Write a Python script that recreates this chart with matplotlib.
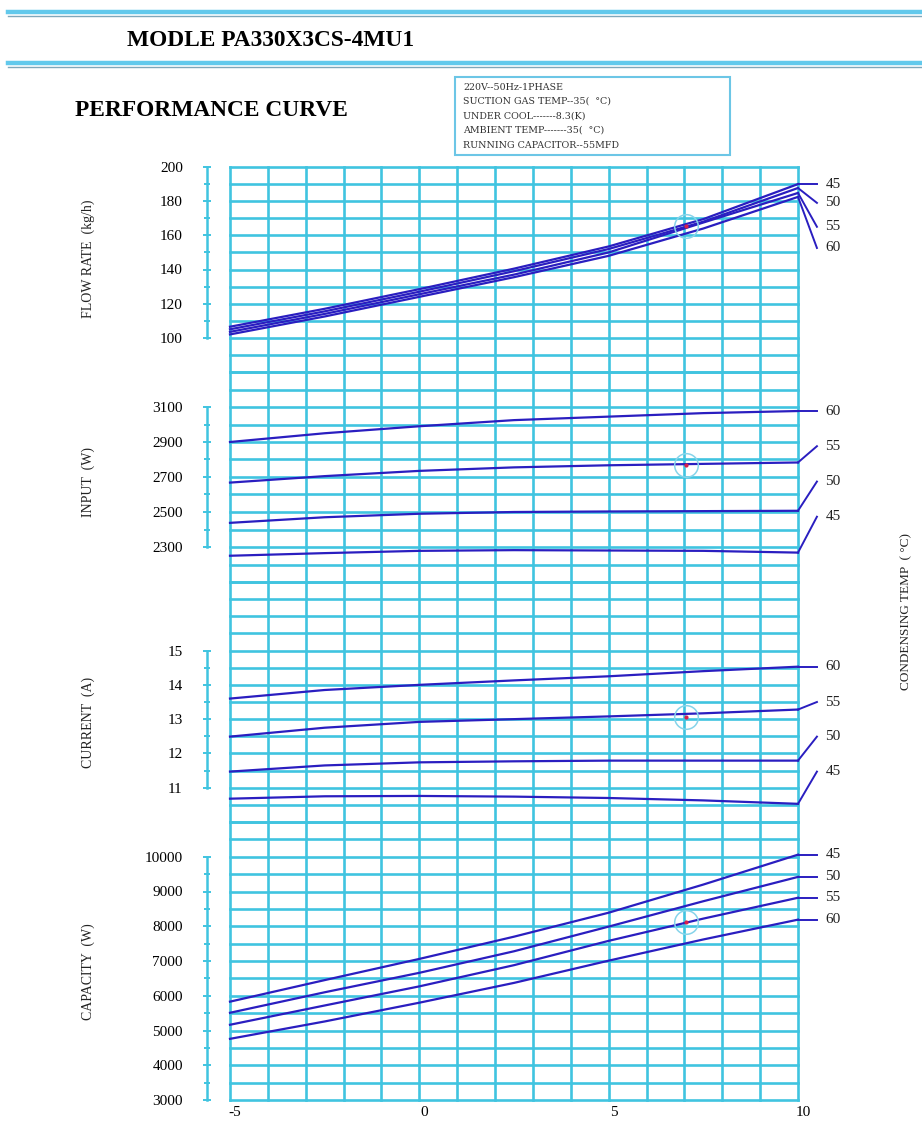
import numpy as np
import matplotlib.pyplot as plt
import matplotlib.transforms as mtransforms
from matplotlib.lines import Line2D
from matplotlib.patches import Rectangle

plt.rcParams['font.family'] = ['Liberation Serif', 'DejaVu Serif']
plt.rcParams['axes.unicode_minus'] = False

W, H = 922, 1122

# evaporating temp (x axis)
evap = [-5, -2.5, 0, 2.5, 5, 7.5, 10]
cond_temps = ['45', '50', '55', '60']

# flow rate (kg/h) for condensing temp 45, 50, 55, 60
flow_45 = [106.5, 117, 128.5, 140.5, 153.5, 169.5, 190]
flow_50 = [105, 115.5, 127, 139, 152, 168, 187.7]
flow_55 = [103.5, 114, 125.5, 137, 150, 167.5, 184.8]
flow_60 = [102, 112.5, 124, 135.5, 148, 164, 182.5]

# input (W)
input_45 = [2250, 2265, 2278, 2282, 2280, 2278, 2268]
input_50 = [2438, 2470, 2490, 2500, 2503, 2505, 2507]
input_55 = [2668, 2705, 2735, 2755, 2767, 2775, 2783]
input_60 = [2900, 2950, 2990, 3025, 3045, 3065, 3077]

# current (A)
current_45 = [10.68, 10.75, 10.76, 10.74, 10.70, 10.63, 10.53]
current_50 = [11.47, 11.65, 11.74, 11.77, 11.79, 11.79, 11.79]
current_55 = [12.49, 12.75, 12.92, 13.00, 13.08, 13.17, 13.28]
current_60 = [13.60, 13.85, 14.00, 14.13, 14.25, 14.40, 14.53]

# capacity (W)
cap_45 = [5830, 6450, 7060, 7700, 8390, 9200, 10060]
cap_50 = [5510, 6100, 6660, 7280, 7990, 8720, 9420]
cap_55 = [5165, 5720, 6270, 6880, 7580, 8220, 8820]
cap_60 = [4760, 5260, 5800, 6370, 7010, 7620, 8190]

# rated point marked with a circle
check_x = 7.05
check_flow, check_input, check_current, check_cap = 165.5, 2766, 13.07, 8130

grid_c = '#40c4e0'
line_c = '#2a1ec0'

fig = plt.figure(figsize=(W / 100, H / 100), dpi=100)


def rect(top, bottom):
    return [230 / W, 1 - bottom / H, 568 / W, (bottom - top) / H]


panels = [
    dict(band=(167, 372), ylim=(80, 200), step=10, bounds=(100, 200),
         ticks=[100, 120, 140, 160, 180, 200],
         series=[flow_45, flow_50, flow_55, flow_60],
         lab_y=[190, 179, 165, 152.6], check=check_flow,
         name='FLOW RATE  (kg/h)', name_y=259),
    dict(band=(372, 582), ylim=(2100, 3300), step=100, bounds=(2300, 3100),
         ticks=[2300, 2500, 2700, 2900, 3100],
         series=[input_45, input_50, input_55, input_60],
         lab_y=[2473, 2674, 2876, 3077], check=check_input,
         name='INPUT  (W)', name_y=482),
    dict(band=(582, 822), ylim=(10, 17), step=0.5, bounds=(11, 15),
         ticks=[11, 12, 13, 14, 15],
         series=[current_45, current_50, current_55, current_60],
         lab_y=[11.47, 12.49, 13.5, 14.53], check=check_current,
         name='CURRENT  (A)', name_y=722),
    dict(band=(822, 1100), ylim=(3000, 11000), step=500, bounds=(3000, 10000),
         ticks=[3000, 4000, 5000, 6000, 7000, 8000, 9000, 10000],
         series=[cap_45, cap_50, cap_55, cap_60],
         lab_y=[10060, 9420, 8820, 8190], check=check_cap,
         name='CAPACITY  (W)', name_y=972),
]

for i, p in enumerate(panels):
    ax = fig.add_axes(rect(*p['band']))
    ax.set_xlim(-5, 10)
    ax.set_ylim(*p['ylim'])
    ax.patch.set_alpha(0)
    for s in ['top', 'right', 'bottom']:
        ax.spines[s].set_visible(False)

    # background grid
    lo, hi = p['ylim']
    for v in np.arange(lo, hi + p['step'] / 2, p['step']):
        ax.axhline(v, color=grid_c, lw=1.9, zorder=0, clip_on=False)
    for v in range(-5, 11):
        ax.axvline(v, color=grid_c, lw=1.9, zorder=0, clip_on=False)

    # left scale
    sp = ax.spines['left']
    sp.set_position(('outward', 16.5))
    sp.set_bounds(*p['bounds'])
    sp.set_color(grid_c)
    sp.set_linewidth(1.8)
    ax.set_yticks(p['ticks'])
    ax.set_yticks(np.arange(p['bounds'][0], p['bounds'][1] + p['step'] / 2, p['step']), minor=True)
    ax.tick_params(axis='y', which='both', direction='inout', length=6, width=1.4,
                   color=grid_c, labelsize=11, pad=14.5)
    ax.tick_params(axis='y', which='minor', length=5)

    if i == 3:
        ax.set_xticks([-5, 0, 5, 10])
        ax.tick_params(axis='x', length=0, labelsize=11, pad=4)
        shift = mtransforms.ScaledTranslation(5 / 100, 0, fig.dpi_scale_trans)
        for lbl in ax.get_xticklabels():
            lbl.set_transform(lbl.get_transform() + shift)
    else:
        ax.set_xticks([])

    for ys, lab, ly in zip(p['series'], cond_temps, p['lab_y']):
        ax.plot(evap, ys, color=line_c, lw=1.6, zorder=3, clip_on=False)
        ax.plot([10, 10.5], [ys[-1], ly], color=line_c, lw=1.4, zorder=3, clip_on=False)
        ax.text(10.72, ly, lab, fontsize=11, va='center', ha='left', color='#222222')

    ax.plot(check_x, p['check'], 'o', ms=17, mfc='none', mec='#86d4ea', mew=1.1, zorder=4)
    ax.plot(check_x, p['check'], '.', ms=4, color='#d8204a', zorder=5)

    fig.text(88 / W, 1 - p['name_y'] / H, p['name'], rotation=90, fontsize=10,
             ha='center', va='center', color='#222222')

fig.text(906 / W, 1 - 612 / H, 'CONDENSING TEMP  ( \u00b0C)', rotation=90, fontsize=9.5,
         ha='center', va='center', color='#222222')

# header rules
for y in (12, 63):
    fig.add_artist(Line2D([8 / W, 1], [1 - y / H, 1 - y / H], color='#62c9ec', lw=3.2))
    fig.add_artist(Line2D([8 / W, 1], [1 - (y + 3.5) / H, 1 - (y + 3.5) / H], color='#7ea7bb', lw=1.0))

fig.text(127 / W, 1 - 40 / H, 'MODLE PA330X3CS-4MU1', fontsize=16.8, fontweight='bold',
         ha='left', va='center')
fig.text(75 / W, 1 - 110 / H, 'PERFORMANCE CURVE', fontsize=16.8, fontweight='bold',
         ha='left', va='center')

# conditions box
fig.add_artist(Rectangle((455 / W, 1 - 155 / H), 275 / W, 78 / H, transform=fig.transFigure,
                         fill=False, ec='#6cc6e6', lw=1.5))
info = ['220V--50Hz-1PHASE', 'SUCTION GAS TEMP--35(  \u00b0C)', 'UNDER COOL-------8.3(K)',
        'AMBIENT TEMP-------35(  \u00b0C)', 'RUNNING CAPACITOR--55MFD']
for k, t in enumerate(info):
    fig.text(463 / W, 1 - (87 + 14.5 * k) / H, t, fontsize=6.8, family=['DejaVu Serif'],
             ha='left', va='center', color='#333333')

fig.savefig('out.png', dpi=100, facecolor='white')
